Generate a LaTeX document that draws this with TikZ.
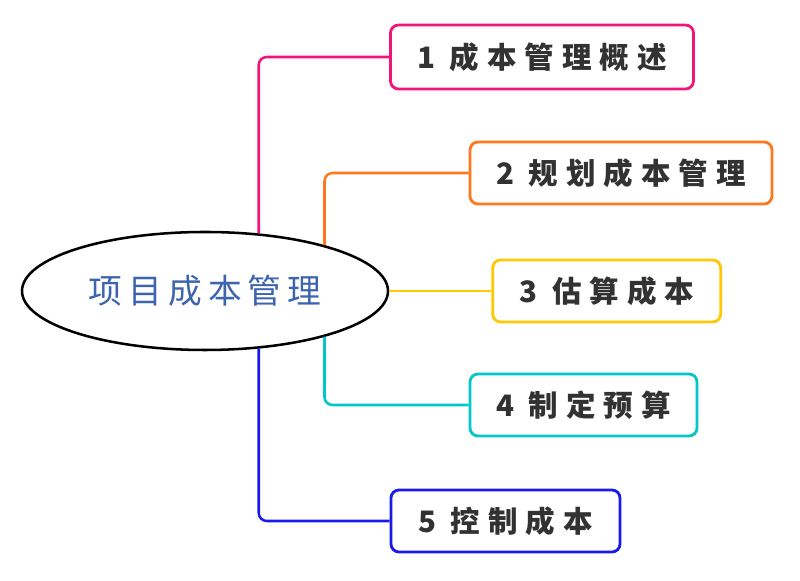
\documentclass[tikz,border=0pt]{standalone}
\usepackage{fontspec}
\setmainfont{Noto Sans CJK SC}
\newfontfamily\boxfont[LetterSpace=27]{Noto Sans CJK SC}
\newfontfamily\rootfont[LetterSpace=18]{Noto Sans CJK SC}
\usetikzlibrary{positioning}
\usetikzlibrary{shapes.geometric}

\definecolor{cpink}{RGB}{240,20,125}
\definecolor{corange}{RGB}{255,120,30}
\definecolor{cyellow}{RGB}{255,200,0}
\definecolor{ccyan}{RGB}{0,200,200}
\definecolor{cblue}{RGB}{25,25,235}
\definecolor{rtext}{RGB}{60,100,175}
\definecolor{btext}{RGB}{50,50,50}

\begin{document}
\begin{tikzpicture}[align=center,
	rnode/.style={ellipse,draw=black,fill=white,line width=1.8pt,minimum width=9.15cm,minimum height=2.95cm,text=rtext,font=\rootfont\fontsize{24}{26}\selectfont},
	tnode/.style={rectangle,rounded corners=0.2cm,fill=white,line width=2pt,minimum height=1.55cm,text=btext,font=\boxfont\bfseries\fontsize{21}{24}\selectfont},
	link/.style={line width=1.8pt,rounded corners=0.2cm}]
		\useasboundingbox (0,0) rectangle (20,14.525);
		\node[rnode] (root) at (5.125,7.25){项目成本管理};
		\node[tnode,draw=cpink,minimum width=7.575cm,minimum height=1.6cm] (ovw) at (13.55,13.1){1 成本管理概述};
		\node[tnode,draw=corange,minimum width=7.55cm] (plan) at (15.525,10.2){2 规划成本管理};
		\node[tnode,draw=cyellow,minimum width=5.7cm] (est)[right = 2.55cm of root]{3 估算成本};
		\node[tnode,draw=ccyan,minimum width=5.675cm] (bud) at (14.5875,4.4){4 制定预算};
		\node[tnode,draw=cblue,minimum width=5.725cm] (ctl) at (12.6375,1.5){5 控制成本};
		\draw[link,cpink] (root.47.4) |- (ovw.west);
		\draw[link,corange] (root.21.5) |- (plan.west);
		\draw[link,cyellow] (root.east) -- (est.west);
		\draw[link,ccyan] (root.-21.5) |- (bud.west);
		\draw[link,cblue] (root.-47.4) |- (ctl.west);
	\end{tikzpicture}
\end{document}
